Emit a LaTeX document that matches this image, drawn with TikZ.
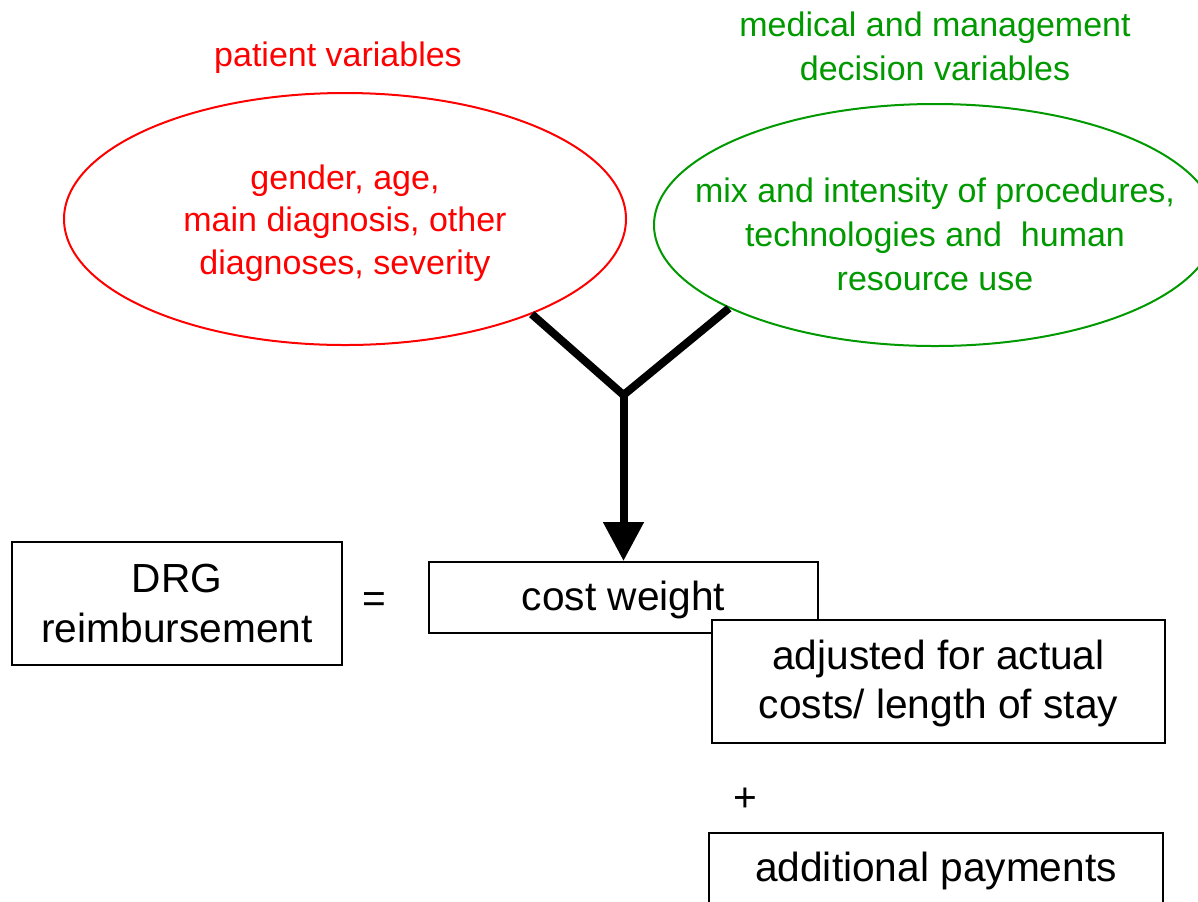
\documentclass[tikz,border=0pt]{standalone}
\usepackage{fontspec}
\setmainfont{Liberation Sans}
\usetikzlibrary{shapes.geometric,arrows.meta}
\definecolor{dgreen}{RGB}{0,153,0}
\begin{document}
\begin{tikzpicture}[x=0.75pt,y=-0.75pt,
  oval/.style={ellipse,draw,line width=1.5pt,inner sep=0pt,minimum width=421.5pt},
  redtxt/.style={text=red,align=center,font=\fontsize{25.5pt}{32pt}\selectfont},
  greentxt/.style={text=dgreen,align=center,font=\fontsize{25.5pt}{33pt}\selectfont},
  box/.style={draw,line width=1.5pt,fill=white,inner sep=0pt,align=center,font=\fontsize{30.5pt}{37pt}\selectfont},
  plain/.style={font=\fontsize{30.5pt}{37pt}\selectfont},
  thick arrow/.style={line width=6pt}
]
\useasboundingbox (0,0) rectangle (1198,901);
\clip (0,0) rectangle (1198,901);
\fill[white] (0,0) rectangle (1198,901);

% titles
\node[redtxt] (pvtitle) at (338,58) {patient variables};
\node[greentxt] (mvtitle) at (935,46.5) {medical and management\\decision variables};

% ellipses
\node[oval,draw=red,minimum height=189pt] (pv) at (345,219) {};
\node[oval,draw=dgreen,minimum height=181.5pt] (mv) at (935,225) {};
\node[redtxt] (pvtext) at (345,223) {gender, age,\\main diagnosis, other\\diagnoses, severity};
\node[greentxt] (mvtext) at (935,234.5) {mix and intensity of procedures,\\technologies and\ \ human\\resource use};

% boxes
\node[box,minimum width=247.5pt,minimum height=92.25pt] (drg) at (177,603.5) {DRG\\reimbursement};
\node[plain] (eq) at (374,603) {=};
\node[box,minimum width=291.75pt,minimum height=53.25pt,text height=26pt] (cw) at (623.5,597.5) {cost weight};
\node[box,minimum width=339.75pt,minimum height=92.25pt] (adj) at (938.5,681.5) {\rule{0pt}{25pt}adjusted for actual\\costs/ length of stay};
\node[plain] (plus) at (745,800) {+};
\node[box,minimum width=340.5pt,minimum height=53.25pt,text height=26pt] (add) at (936,868.5) {additional payments};

% connectors
\coordinate (J) at (623.5,395);
\draw[thick arrow] (pv.-27) -- (J) -- (mv.-158.2);
\draw[thick arrow,-{Triangle[width=29.25pt,length=29.25pt]}] (J) -- (cw.north);
\end{tikzpicture}
\end{document}
